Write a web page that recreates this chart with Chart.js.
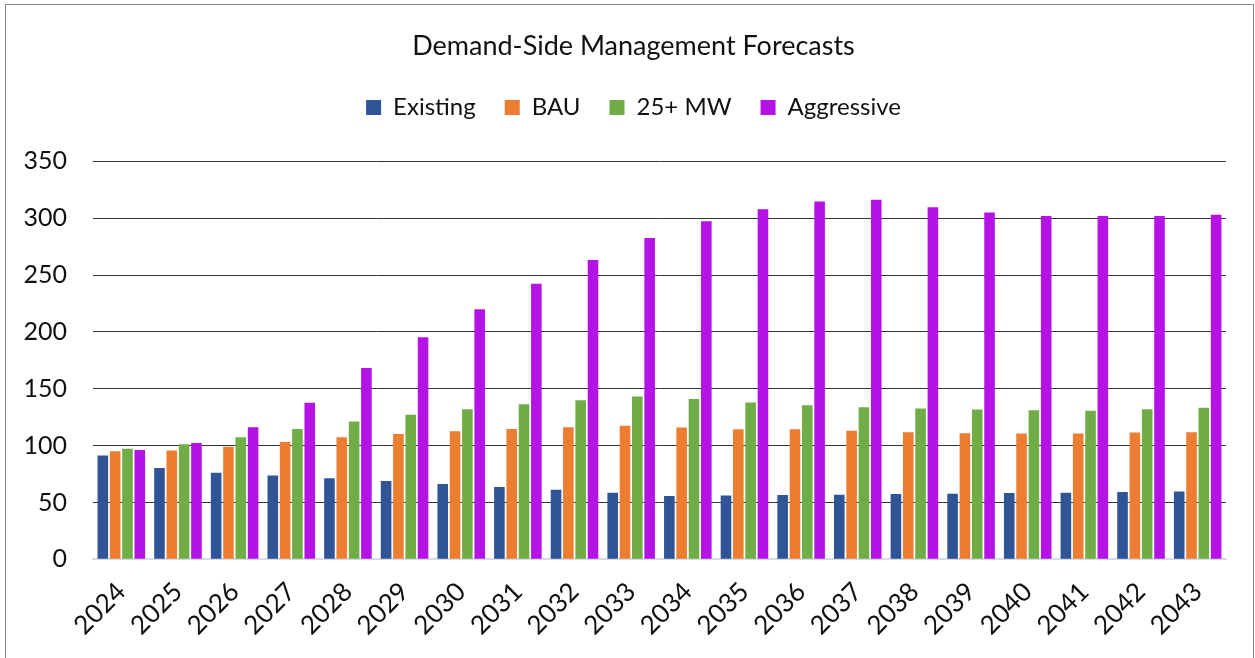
<!DOCTYPE html>
<html>
<head>
  <title>Demand-Side Management Forecasts</title>
  <script src="https://cdn.jsdelivr.net/npm/chart.js"></script>
  <style>
    body { margin: 0; background: #fff; overflow: hidden; }
    #frame {
      position: absolute; left: 5px; top: 4px;
      width: 1247px; height: 700px;
      border: 1px solid #888;
    }
    #box { position: relative; width: 1247px; height: 653px; }
  </style>
  <script>
    const years = ['2024', '2025', '2026', '2027', '2028', '2029', '2030', '2031', '2032', '2033',
                   '2034', '2035', '2036', '2037', '2038', '2039', '2040', '2041', '2042', '2043'];
    const existing = [91.2, 80.3, 76.2, 73.8, 71.2, 68.8, 66.2, 63.5, 61.2, 58.5,
                      55.6, 56.1, 56.5, 56.7, 57.4, 57.6, 58.2, 58.5, 59.1, 59.7];
    const bau = [95.0, 95.6, 99.1, 103.2, 107.3, 110.3, 112.6, 114.7, 116.2, 117.4,
                 115.9, 114.4, 114.4, 113.0, 111.7, 110.8, 110.6, 110.6, 111.5, 111.7];
    const mw25 = [97.3, 101.2, 107.3, 114.7, 121.2, 127.1, 132.0, 136.4, 140.0, 143.2,
                  140.9, 138.0, 135.6, 133.8, 132.6, 131.7, 131.1, 130.6, 132.0, 133.2];
    const aggressive = [96.2, 102.4, 116.2, 137.7, 168.2, 195.3, 220.0, 242.3, 263.3, 282.7,
                        297.4, 308.0, 314.7, 316.2, 309.7, 305.0, 302.0, 302.0, 302.0, 303.0];

    // extra room between the legend row and the plot
    const legendGap = {
      id: 'legendGap',
      beforeInit(chart) {
        const fit = chart.legend.fit;
        chart.legend.fit = function() {
          fit.call(this);
          this.height += 32;
        };
      }
    };

    window.onload = function() {
      const ctx = document.getElementById('myChart').getContext('2d');
      const fontFamily = 'Lato, "Open Sans", sans-serif';

      const bar = (label, data, color) => ({
        label: label,
        data: data,
        backgroundColor: color,
        borderWidth: 0,
        barPercentage: 0.86,
        categoryPercentage: 0.87
      });

      new Chart(ctx, {
        type: 'bar',
        data: {
          labels: years,
          datasets: [
            bar('Existing', existing, '#2F5597'),
            bar('BAU', bau, '#ED7D31'),
            bar('25+ MW', mw25, '#70AD47'),
            bar('Aggressive', aggressive, '#B512E6')
          ]
        },
        plugins: [legendGap],
        options: {
          responsive: true,
          maintainAspectRatio: false,
          animation: false,
          layout: { padding: { left: 14, right: 6, top: 0, bottom: 8 } },
          plugins: {
            title: {
              display: true,
              text: 'Demand-Side Management Forecasts',
              color: '#111',
              font: { family: fontFamily, size: 27, weight: 'normal' },
              padding: { top: 25, bottom: 4 }
            },
            legend: {
              position: 'top',
              labels: {
                color: '#111',
                font: { family: fontFamily, size: 24 },
                boxWidth: 15,
                boxHeight: 15,
                padding: 29
              }
            },
            tooltip: { enabled: false }
          },
          scales: {
            x: {
              afterFit: s => { s.paddingLeft = 0; s.paddingRight = 27; },
              grid: { display: false },
              border: { display: true, color: '#d6dce5', width: 2 },
              ticks: {
                color: '#111',
                font: { family: fontFamily, size: 26 },
                minRotation: 45,
                maxRotation: 45,
                padding: 9
              }
            },
            y: {
              afterFit: s => { s.width = 73; },
              min: 0,
              max: 350,
              border: { display: false },
              grid: {
                drawTicks: false,
                color: c => c.tick.value === 0 ? '#d6dce5' : '#333'
              },
              ticks: {
                stepSize: 50,
                color: '#111',
                font: { family: fontFamily, size: 25 },
                padding: 26
              }
            }
          }
        }
      });
    };
  </script>
</head>
<body>
<div id="frame"><div id="box"><canvas id="myChart"></canvas></div></div>
</body>
</html>
